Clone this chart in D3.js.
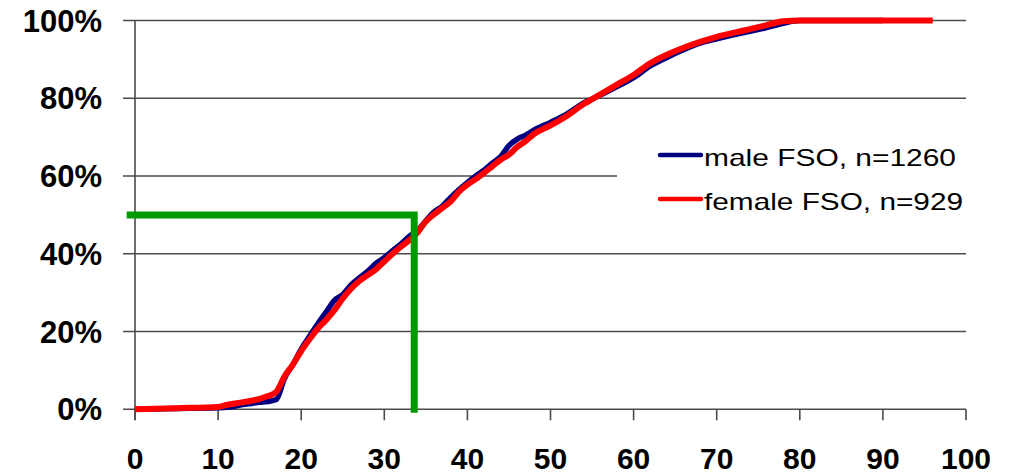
<!DOCTYPE html>
<html><head><meta charset="utf-8">
<script src="https://cdn.jsdelivr.net/npm/d3@7"></script>
<style>html,body{margin:0;padding:0;background:#fff;}svg{display:block;}</style>
</head><body>
<svg id="chart" width="1010" height="475"></svg>
<script>
const xTicks = [0,10,20,30,40,50,60,70,80,90,100];
const yTicks = [0,0.2,0.4,0.6,0.8,1.0];
const yTickLabels = ["0%","20%","40%","60%","80%","100%"];

const femaleAge = [0,5,10,11,12,13,14,15,16,17,18,19,20,21,22,23,24,25,26,27,28,29,30,31,32,33,34,35,36,37,38,39,40,41,42,43,44,45,46,47,48,50,52,54,56,58,60,62,64,66,68,70,72,74,76,78,80,85,90,96];
const femaleCum = [0,0.3,0.6,1.1,1.5,1.8,2.2,2.7,3.4,4.5,8.5,11.5,15,18,20.8,23,25.5,28.5,31,33,34.5,36,38,40,41.8,43.5,45.5,48.3,50.2,51.8,53.5,56,57.8,59.2,60.8,62.5,64.2,65.5,67.5,69,70.8,73,75.5,78.5,81,83.5,86,89,91.2,93,94.5,95.8,96.8,97.8,98.8,99.8,100,100,100,100];

const maleAge = [0,5,10,11,12,13,14,15,16,17,18,19,20,21,22,23,24,25,26,27,28,29,30,31,32,33,34,35,36,37,38,39,40,41,42,43,44,45,46,47,48,50,52,54,56,58,60,62,64,66,68,70,72,74,76,78,80,85,90];
const maleCum = [0,0.2,0.4,0.5,0.8,1.2,1.5,1.8,2.0,2.5,8,11.5,15.5,18.8,22,25,28,29.5,32,33.8,35.5,37.5,39,40.8,42.5,44.5,46,48.5,50.8,52.3,54.5,56.5,58.3,60,61.5,63.3,65,67.8,69.5,70.5,71.8,73.8,76,78.8,80.8,83,85.3,88.3,90.5,92.5,94.2,95.3,96.3,97.2,98.2,99.3,100,100,100];

const medianAge = 33.6;
const medianLevel = 0.5;
const legendLabels = ["male FSO, n=1260","female FSO, n=929"];

const svg = d3.select("#chart");
const x = d3.scaleLinear().domain([0,100]).range([135,966]);
const y = d3.scaleLinear().domain([0,1]).range([409.3,20.5]);
const font = "Arial, 'Liberation Sans', sans-serif";
const gridColor = "#4a4a4a";

svg.append("g").selectAll("line").data(yTicks).join("line")
  .attr("x1",123).attr("x2",x(100))
  .attr("y1",d=>y(d)).attr("y2",d=>y(d))
  .attr("stroke",gridColor).attr("stroke-width",1.6);

svg.append("line").attr("x1",x(0)).attr("x2",x(0)).attr("y1",y(1)).attr("y2",y(0)+11)
  .attr("stroke",gridColor).attr("stroke-width",1.6);

svg.append("g").selectAll("line").data(xTicks).join("line")
  .attr("x1",d=>x(d)).attr("x2",d=>x(d)).attr("y1",y(0)).attr("y2",y(0)+11)
  .attr("stroke",gridColor).attr("stroke-width",1.6);

svg.append("g").selectAll("text").data(yTicks).join("text")
  .attr("x",102).attr("y",d=>y(d)).attr("dy","0.36em")
  .attr("text-anchor","end").attr("font-family",font).attr("font-weight","bold")
  .attr("font-size",31).attr("fill","#000")
  .text((d,i)=>yTickLabels[i]);

svg.append("g").selectAll("text").data(xTicks).join("text")
  .attr("x",d=>x(d)).attr("y",469)
  .attr("text-anchor","middle").attr("font-family",font).attr("font-weight","bold")
  .attr("font-size",30).attr("fill","#000")
  .text(d=>d);

svg.append("rect").attr("x",617).attr("y",125).attr("width",360).attr("height",100).attr("fill","#fff");

const line = d3.line().x(d=>x(d[0])).y(d=>y(d[1]/100)).curve(d3.curveMonotoneX);
const maleData = maleAge.map((a,i)=>[a,maleCum[i]]);
const femaleData = femaleAge.map((a,i)=>[a,femaleCum[i]]);

svg.append("path").datum(maleData).attr("d",line).attr("fill","none")
  .attr("stroke","#000080").attr("stroke-width",5.5).attr("stroke-linejoin","round");
svg.append("path").datum(femaleData).attr("d",line).attr("fill","none")
  .attr("stroke","#ff0000").attr("stroke-width",6).attr("stroke-linejoin","round");

svg.append("path").datum([[-1,medianLevel],[medianAge,medianLevel],[medianAge,-0.009]])
  .attr("d",d3.line().x(d=>x(d[0])).y(d=>y(d[1])))
  .attr("fill","none").attr("stroke","#009900").attr("stroke-width",7).attr("stroke-linejoin","miter");

const legColors = ["#000080","#ff0000"];
const legY = [155,199];
const legW = [252,259];
const lg = svg.append("g");
legendLabels.forEach((t,i)=>{
  lg.append("line").attr("x1",660).attr("x2",701).attr("y1",legY[i]).attr("y2",legY[i])
    .attr("stroke",legColors[i]).attr("stroke-width",4.5).attr("stroke-linecap","round");
  lg.append("text").attr("x",704).attr("y",legY[i]+10.5)
    .attr("font-family",font).attr("font-size",24).attr("fill","#000")
    .attr("textLength",legW[i]).attr("lengthAdjust","spacingAndGlyphs")
    .text(t);
});
</script>
</body></html>
